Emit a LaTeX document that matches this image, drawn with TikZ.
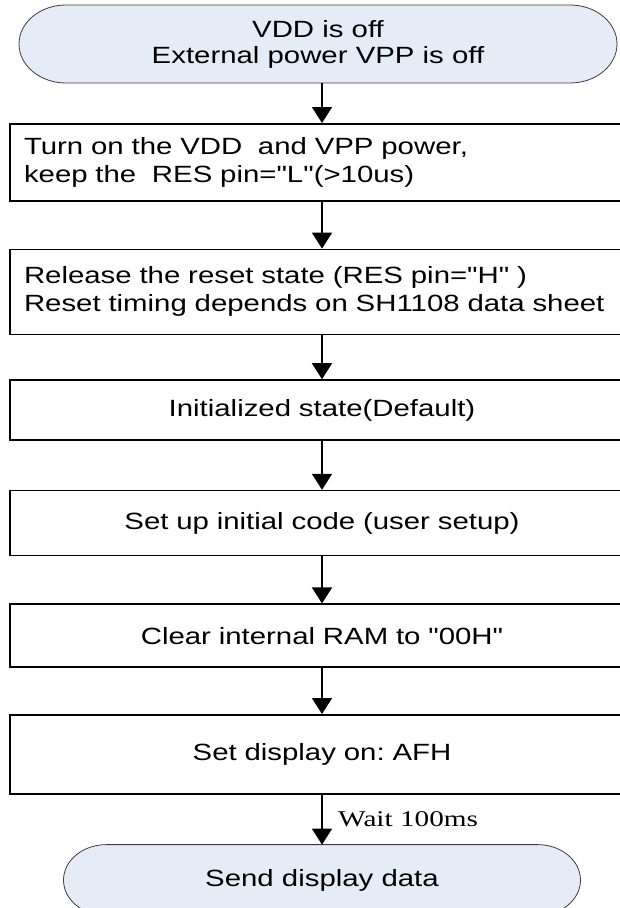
\documentclass[tikz,border=0pt]{standalone}
\usepackage{fontspec}
\setmainfont{Liberation Sans}[FakeStretch=1.25, Ligatures=TeXOff]
\newfontfamily\waitfont{Liberation Serif}[FakeStretch=1.3, Ligatures=TeXOff]
\usetikzlibrary{arrows.meta, positioning, backgrounds}
\definecolor{termfill}{HTML}{E6ECF7}
\definecolor{termline}{HTML}{3C3C3C}
\frenchspacing
\tikzset{
    proc/.style={
        draw, line width=1.6pt,
        minimum width=624pt,
        text width=596pt,
        inner xsep=14pt, inner ysep=0pt,
        align=center,
        font=\fontsize{23.5}{28}\selectfont
    },
    procl/.style={
        proc,
        align=left
    },
    term/.style={
        minimum width=598pt, minimum height=78pt,
        inner sep=0pt, outer sep=0pt,
        align=center,
        font=\fontsize{23.5}{26}\selectfont
    },
    conn/.style={
        line width=1.8pt,
        -{Triangle[width=20pt,length=16pt]},
    },
}
% outline of a terminal: node, x radius, y radius
\newcommand{\termshape}[3]{%
    \draw[termline, fill=termfill, line width=0.8pt]
        ([xshift=#2]#1.north west) -- ([xshift=-#2]#1.north east)
        arc[start angle=90, end angle=-90, x radius=#2, y radius=#3]
        -- ([xshift=#2]#1.south west)
        arc[start angle=270, end angle=90, x radius=#2, y radius=#3] -- cycle;
}

\begin{document}
\begin{tikzpicture}
            \useasboundingbox (0,0) rectangle (620pt,-908pt);
            % Draw the steps
            \node[term] (start) at (318pt,-44pt) {VDD is off\\External power VPP is off};
            \node[procl, minimum height=77pt, below=40pt of start, xshift=4pt] (power)
                {Turn on the VDD\ \ and VPP power,\\keep the\ \ RES pin="L"(>10us)};
            \node[procl, minimum height=85pt, below=47pt of power] (release)
                {Release the reset state (RES pin="H" )\\Reset timing depends on SH1108 data sheet};
            \node[proc, minimum height=60pt, below=44pt of release] (init) {Initialized state(Default)};
            \node[proc, minimum height=65pt, below=49pt of init] (setup) {Set up initial code (user setup)};
            \node[proc, minimum height=63pt, below=47pt of setup] (clear) {Clear internal RAM to "00H"};
            \node[proc, minimum height=79pt, below=46pt of clear] (dispon) {Set display on: AFH};
            \node[term, minimum width=517pt, minimum height=71pt, below=50pt of dispon] (send) {Send display data};

            % Draw terminal outlines
            \begin{scope}[on background layer]
                \termshape{start}{47pt}{39pt}
                \termshape{send}{43pt}{35.5pt}
            \end{scope}

            % Draw arrows
            \draw[conn] (start.south -| power.north) -- (power.north);
            \draw[conn] (power) -- (release);
            \draw[conn] (release) -- (init);
            \draw[conn] (init) -- (setup);
            \draw[conn] (setup) -- (clear);
            \draw[conn] (clear) -- (dispon);
            \draw[conn] (dispon) -- node [right=12pt, midway, font=\waitfont\fontsize{22.5}{26}\selectfont] {Wait 100ms} (send);
\end{tikzpicture}
\end{document}
